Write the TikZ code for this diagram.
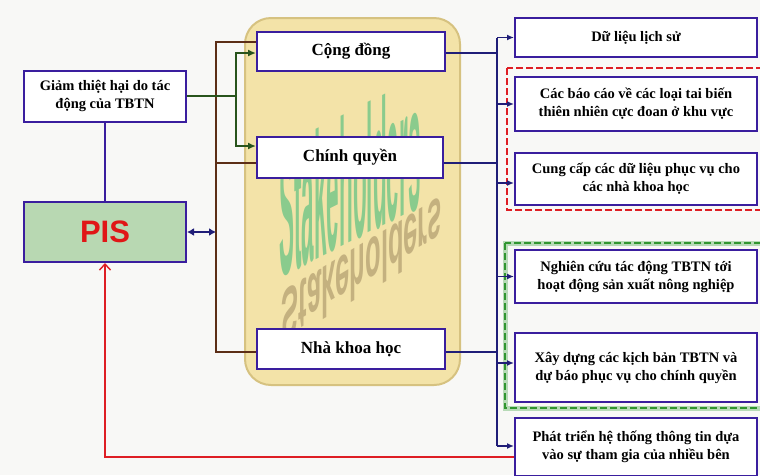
\documentclass[tikz,border=0pt]{standalone}
\usepackage{fontspec}
\setmainfont{Liberation Serif}
\newfontfamily\pisfont{Liberation Sans}
\usepackage{tikz}
\usetikzlibrary{arrows.meta,positioning,calc}
\definecolor{boxblue}{RGB}{58,30,158}
\definecolor{navy}{RGB}{32,30,120}
\definecolor{busbrown}{RGB}{92,46,22}
\definecolor{darkgreen}{RGB}{40,84,28}
\definecolor{panel}{RGB}{243,227,168}
\definecolor{paneledge}{RGB}{214,194,128}
\definecolor{pisgreen}{RGB}{184,216,178}
\definecolor{pisred}{RGB}{224,22,22}
\definecolor{framered}{RGB}{222,30,36}
\definecolor{framegreen}{RGB}{48,150,48}
\definecolor{wmgreen}{RGB}{104,196,132}
\definecolor{wmbrown}{RGB}{150,128,88}
\definecolor{bgcol}{RGB}{248,248,246}

\tikzset{
  box/.style={draw=boxblue, line width=2pt, fill=white, align=center,
    inner sep=2pt, font=\bfseries\fontsize{14.5}{18}\selectfont},
  midbox/.style={box, minimum width=188pt, minimum height=40pt,
    font=\bfseries\fontsize{17}{20}\selectfont},
  rbox/.style={box, minimum width=242pt},
  brownline/.style={draw=busbrown, line width=1.5pt},
  greenline/.style={draw=darkgreen, line width=2.8pt},
  navyline/.style={draw=navy, line width=1.4pt},
  navyarrow/.style={navyline, -{Latex[length=7pt,width=6pt]}},
  redline/.style={draw=framered, line width=1.4pt},
  dashframe/.style={line width=2.4pt, dash pattern=on 7pt off 3pt}
}

\begin{document}
\begin{tikzpicture}[x=1pt,y=-1pt]
\useasboundingbox (0,0) rectangle (760,475);
\fill[bgcol] (0,0) rectangle (760,475);

% stakeholder panel
\draw[paneledge, fill=panel, line width=2pt, rounded corners=26pt] (245,18) rectangle (460,385);
\node[yslant=0.5, text=wmgreen, opacity=0.75,
  font=\pisfont\bfseries\fontsize{30}{30}\selectfont] (wm) at (350,178) {\scalebox{0.75}[6]{Stakeholders}};
\node[yslant=0.6, text=wmbrown, opacity=0.5,
  font=\pisfont\bfseries\fontsize{30}{30}\selectfont] (wmr) at (362,270) {\scalebox{0.85}[-2.4]{Stakeholders}};

% dashed groups
\draw[framered, dashframe] (507,68) rectangle (763,210);
\draw[framegreen!35, line width=5pt] (505,243) rectangle (763,408);
\draw[framegreen, dashframe] (505,243) rectangle (763,408);

\node[box, minimum width=162pt, minimum height=51pt] (goal) at (105,96) {Giảm thiệt hại do tác\\động của TBTN};
\node[box, fill=pisgreen, minimum width=162pt, minimum height=60pt,
  font=\pisfont\bfseries\fontsize{31}{31}\selectfont, text=pisred] (pis) at (105,232) {PIS};

\node[midbox, minimum height=39pt] (cong) at (351,51.5) {Cộng đồng};
\node[midbox, minimum width=186pt, minimum height=41pt] (chinh) at (350,157.5) {Chính quyền};
\node[midbox] (nha) at (351,349) {Nhà khoa học};

\node[rbox, minimum height=39pt] (hist) at (636,37.5) {Dữ liệu lịch sử};
\node[rbox, minimum height=54pt] (report) at (636,104) {Các báo cáo về các loại tai biến\\thiên nhiên cực đoan ở khu vực};
\node[rbox, minimum height=52pt] (supply) at (636,179) {Cung cấp các dữ liệu phục vụ cho\\các nhà khoa học};
\node[rbox, minimum height=53pt] (research) at (636,276.5) {Nghiên cứu tác động TBTN tới\\hoạt động sản xuất nông nghiệp};
\node[rbox, minimum height=69pt] (scenario) at (636,367.5) {Xây dựng các kịch bản TBTN và\\dự báo phục vụ cho chính quyền};
\node[rbox, minimum height=58pt] (develop) at (636,447) {Phát triển hệ thống thông tin dựa\\vào sự tham gia của nhiều bên};

% left side
\draw[draw=boxblue, line width=2.4pt] (goal.south) -- (pis.north);
\coordinate (bb) at (216,352);
\draw[navy, line width=2.4pt, {Latex[length=7pt,width=8pt]}-{Latex[length=7pt,width=8pt]}] (pis.east) -- (pis.east -| bb);
\draw[brownline] ([yshift=9.5pt]cong.west) -| (bb) -- ([yshift=-3pt]nha.west);
\draw[brownline] ([yshift=-5.5pt]chinh.west) -- ++(-41,0);

\coordinate (gj) at (236,96);
\draw[greenline] (goal.east) -- (gj);
\draw[greenline, -{Latex[length=8pt,width=7pt]}] (gj) |- ([yshift=-1.5pt]cong.west);
\draw[greenline, -{Latex[length=8pt,width=7pt]}] (gj) |- ([yshift=11.5pt]chinh.west);

% right side
\coordinate (rt) at (497,37.5);
\coordinate (rb) at (497,446);
\draw[navyline] (rt) -- (rb);
\draw[navyline] ([yshift=-1.5pt]cong.east) -- ([yshift=-1.5pt]cong.east -| rt);
\draw[navyline] ([yshift=-5.5pt]chinh.east) -- ([yshift=-5.5pt]chinh.east -| rt);
\draw[navyline] ([yshift=-3pt]nha.east) -- ([yshift=-3pt]nha.east -| rt);
\draw[navyarrow] (rt |- hist.west) -- (hist.west);
\draw[navyarrow] (rt |- report.west) -- (report.west);
\draw[navyarrow] ([yshift=-4pt]supply.west -| rt) -- ([yshift=-4pt]supply.west);
\draw[navyarrow] (rt |- research.west) -- (research.west);
\draw[navyarrow] ([yshift=4.5pt]scenario.west -| rt) -- ([yshift=4.5pt]scenario.west);
\draw[navyarrow] ([yshift=1pt]develop.west -| rt) -- ([yshift=1pt]develop.west);

% feedback to PIS
\draw[redline, -{Straight Barb[length=6pt,width=11pt]}] ([yshift=-10pt]develop.west) -| (pis.south);
\end{tikzpicture}
\end{document}
